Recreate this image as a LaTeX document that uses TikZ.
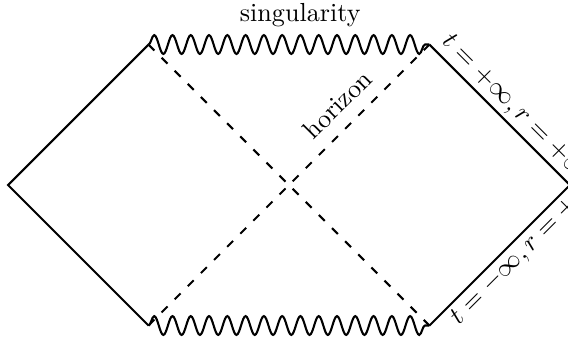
\documentclass[tikz,border=0pt]{standalone}
\usepackage{amsmath,amssymb}
\usepackage{tikz}
\usetikzlibrary{decorations.pathmorphing}
\tikzset{
  edg/.style={thick},
  sng/.style={thick, decorate, decoration={snake, amplitude=3.6pt, segment length=7pt}},
  hrz/.style={thick, dash pattern=on 3.2pt off 3.9pt},
  elab/.style={sloped, inner sep=1.5pt},
}

\begin{document}
\begin{tikzpicture}[x=53.8pt, y=53.8pt]
  \useasboundingbox (-2.057,-1.075) rectangle (1.986,1.317);
  % corners of the diagram
  \coordinate (L) at (-2,0);
  \coordinate (TL) at (-1,1);
  \coordinate (TR) at (1,1);
  \coordinate (R) at (2,0);
  \coordinate (BR) at (1,-1);
  \coordinate (BL) at (-1,-1);
  \draw[edg] (TL) -- (L) -- (BL);
  \draw[edg] (TR) -- (R) -- (BR);
  \draw[sng] (TL) -- (TR);
  \draw[sng] (BL) -- (BR);
  \draw[hrz] (TL) -- (BR);
  \draw[hrz] (BL) -- node[pos=0.73, sloped, above=1.5pt] (hlab) {horizon} (TR);
  \node[anchor=base] (slab) at (0.08,1.162) {singularity};
  % labels on the right edges
  \path (TR) -- node[pos=0.53, elab, above] (plab) {$t=+\infty, r=+\infty$} (R);
  \path (BR) -- node[pos=0.6, elab, below] (mlab) {$t=-\infty, r=+\infty$} (R);
\end{tikzpicture}
\end{document}
